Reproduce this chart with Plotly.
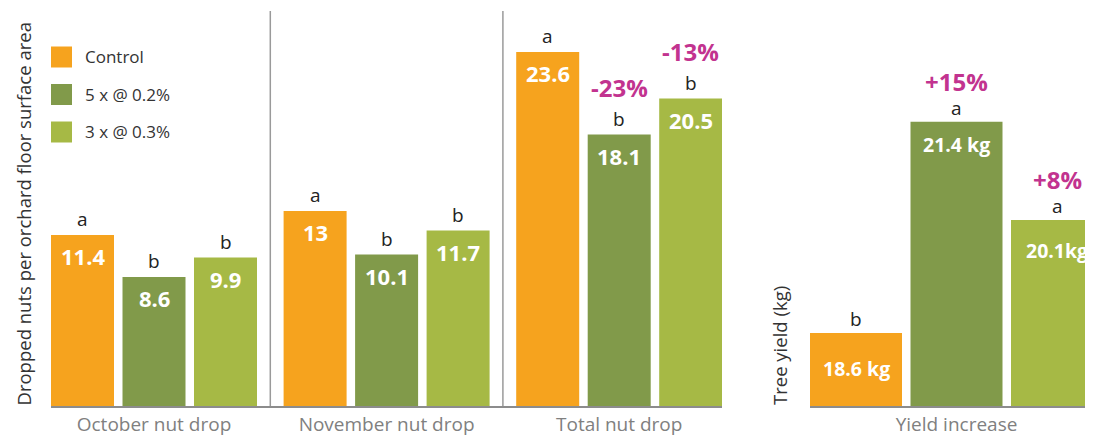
import plotly.graph_objects as go

# ---------------- data ----------------
groups = ["October nut drop", "November nut drop", "Total nut drop"]
series_names = ["Control", "5 x @ 0.2%", "3 x @ 0.3%"]
control_drop = [11.4, 13, 23.6]
t5_drop = [8.6, 10.1, 18.1]
t3_drop = [9.9, 11.7, 20.5]
control_letters = ["a", "a", "a"]
t5_letters = ["b", "b", "b"]
t3_letters = ["b", "b", "b"]
total_pct = ["", "-23%", "-13%"]

yield_group = ["Yield increase"]
yield_vals = [18.6, 21.4, 20.1]
yield_labels = ["18.6 kg", "21.4 kg", "20.1kg"]
yield_letters = ["b", "a", "a"]
yield_pct = ["", "+15%", "+8%"]

left_title = "Dropped nuts per orchard floor surface area"
right_title = "Tree yield (kg)"

# ---------------- style ----------------
colors = ["#F6A31E", "#819A4A", "#A6B945"]
PAD = 8                      # page body margin offset
W, H = 1093 - PAD, 439 - PAD  # figure size (page shows it from PAD,PAD)
FONT = "Open Sans"

def px(x):   # reference x pixel -> paper fraction
    return (x - PAD) / W

def py(y):   # reference y pixel -> paper fraction
    return 1 - (y - PAD) / H

BASE_PX = 406

drop_series = [control_drop, t5_drop, t3_drop]
drop_letters = [control_letters, t5_letters, t3_letters]

# left panel geometry (category units)
L_DOM = (px(51), px(722))
u1 = 232.6
slot1, w1 = 71.5 / u1, 63 / u1
def off1(i):
    return (i - 1.5) * slot1 + (slot1 - w1) / 2
l_left = off1(0)
l_range = [l_left, l_left + (722 - 51) / u1]

# right panel geometry
R_DOM = (px(810), 1.0)
u2 = 330.0
slot2, w2 = 100.5 / u2, 92 / u2
def off2(i):
    return (i - 1.5) * slot2 + (slot2 - w2) / 2
r_left = off2(0)
r_range = [r_left, r_left + (1093 - 810) / u2]

y_bottom = py(BASE_PX)
plot_h = BASE_PX - PAD
k1 = 15.0
y1_range = [0, plot_h / k1]
k2, v0 = 75.45, 17.634
y2_range = [v0, v0 + plot_h / k2]

fig = go.Figure()
for i in range(3):
    fig.add_trace(go.Bar(x=groups, y=drop_series[i], name=series_names[i],
                         marker=dict(color=colors[i], line=dict(width=0)),
                         width=w1, offset=off1(i), xaxis="x", yaxis="y",
                         showlegend=False, hoverinfo="skip"))
    fig.add_trace(go.Bar(x=yield_group, y=[yield_vals[i]], name=series_names[i],
                         marker=dict(color=colors[i], line=dict(width=0)),
                         width=w2, offset=off2(i), xaxis="x2", yaxis="y2",
                         showlegend=False, hoverinfo="skip"))

ann = []
# left panel labels
for i in range(3):
    for g in range(len(groups)):
        xc = g + off1(i) + w1 / 2
        v = drop_series[i][g]
        ann.append(dict(x=xc, y=v, xref="x", yref="y", text=f"<b>{v:g}</b>",
                        showarrow=False, yanchor="middle", yshift=-21,
                        font=dict(family=FONT, size=22, color="white")))
        ann.append(dict(x=xc, y=v, xref="x", yref="y", text=drop_letters[i][g],
                        showarrow=False, yanchor="middle", yshift=16,
                        font=dict(family=FONT, size=19, color="#222222")))
    if total_pct[i]:
        g = len(groups) - 1
        ann.append(dict(x=g + off1(i) + w1 / 2, y=drop_series[i][g], xref="x", yref="y",
                        text=f"<b>{total_pct[i]}</b>", showarrow=False,
                        yanchor="middle", yshift=47,
                        font=dict(family=FONT, size=24, color="#C2338F")))

# right panel labels
val_shift = [-35, -23, -31]
for i in range(3):
    xc = off2(i) + w2 / 2
    v = yield_vals[i]
    ann.append(dict(x=xc, y=v, xref="x2", yref="y2", text=f"<b>{yield_labels[i]}</b>",
                    showarrow=False, yanchor="middle", yshift=val_shift[i],
                    font=dict(family=FONT, size=19.5, color="white")))
    ann.append(dict(x=xc, y=v, xref="x2", yref="y2", text=yield_letters[i],
                    showarrow=False, yanchor="middle", yshift=14,
                    font=dict(family=FONT, size=19, color="#222222")))
    if yield_pct[i]:
        ann.append(dict(x=xc, y=v, xref="x2", yref="y2", text=f"<b>{yield_pct[i]}</b>",
                        showarrow=False, yanchor="middle", yshift=40,
                        font=dict(family=FONT, size=24, color="#C2338F")))

# axis titles
ann.append(dict(x=0, y=py(214), xref="paper", yref="paper",
                text=left_title, textangle=-90,
                showarrow=False, xanchor="left", yanchor="middle",
                font=dict(family=FONT, size=18.5, color="#333333")))
ann.append(dict(x=px(779), y=py(346), xref="paper", yref="paper",
                text=right_title, textangle=-90,
                showarrow=False, xanchor="center", yanchor="middle",
                font=dict(family=FONT, size=18.5, color="#333333")))

# custom legend
shapes = []
for i, name in enumerate(series_names):
    yc = 57 + i * 37.5
    shapes.append(dict(type="rect", xref="paper", yref="paper",
                       x0=px(51), x1=px(72), y0=py(yc - 10.5), y1=py(yc + 10.5),
                       fillcolor=colors[i], line=dict(width=0)))
    ann.append(dict(x=px(83), y=py(yc), xref="paper", yref="paper", text=name,
                    showarrow=False, xanchor="left", yanchor="middle",
                    font=dict(family=FONT, size=17, color="#333333")))

# group separators
for b in [0.5, 1.5]:
    shapes.append(dict(type="line", xref="x", yref="paper", x0=b, x1=b,
                       y0=y_bottom, y1=py(11), line=dict(color="#9a9a9a", width=1.5)))

axis_common = dict(showline=True, linecolor="#8c8c8c", linewidth=2, ticks="",
                   showgrid=False, zeroline=False, fixedrange=True, automargin=False,
                   tickfont=dict(family=FONT, size=19, color="#808080"))
fig.update_layout(
    width=W, height=H, margin=dict(l=0, r=0, t=0, b=0, autoexpand=False),
    paper_bgcolor="white", plot_bgcolor="white", barmode="overlay",
    showlegend=False,
    xaxis=dict(domain=list(L_DOM), range=l_range, anchor="y", type="category", **axis_common),
    xaxis2=dict(domain=list(R_DOM), range=r_range, anchor="y2", type="category", **axis_common),
    yaxis=dict(domain=[y_bottom, 1], range=y1_range, visible=False, fixedrange=True),
    yaxis2=dict(domain=[y_bottom, 1], range=y2_range, visible=False, anchor="x2", fixedrange=True),
    annotations=ann, shapes=shapes,
)
fig.write_html("out.html")
